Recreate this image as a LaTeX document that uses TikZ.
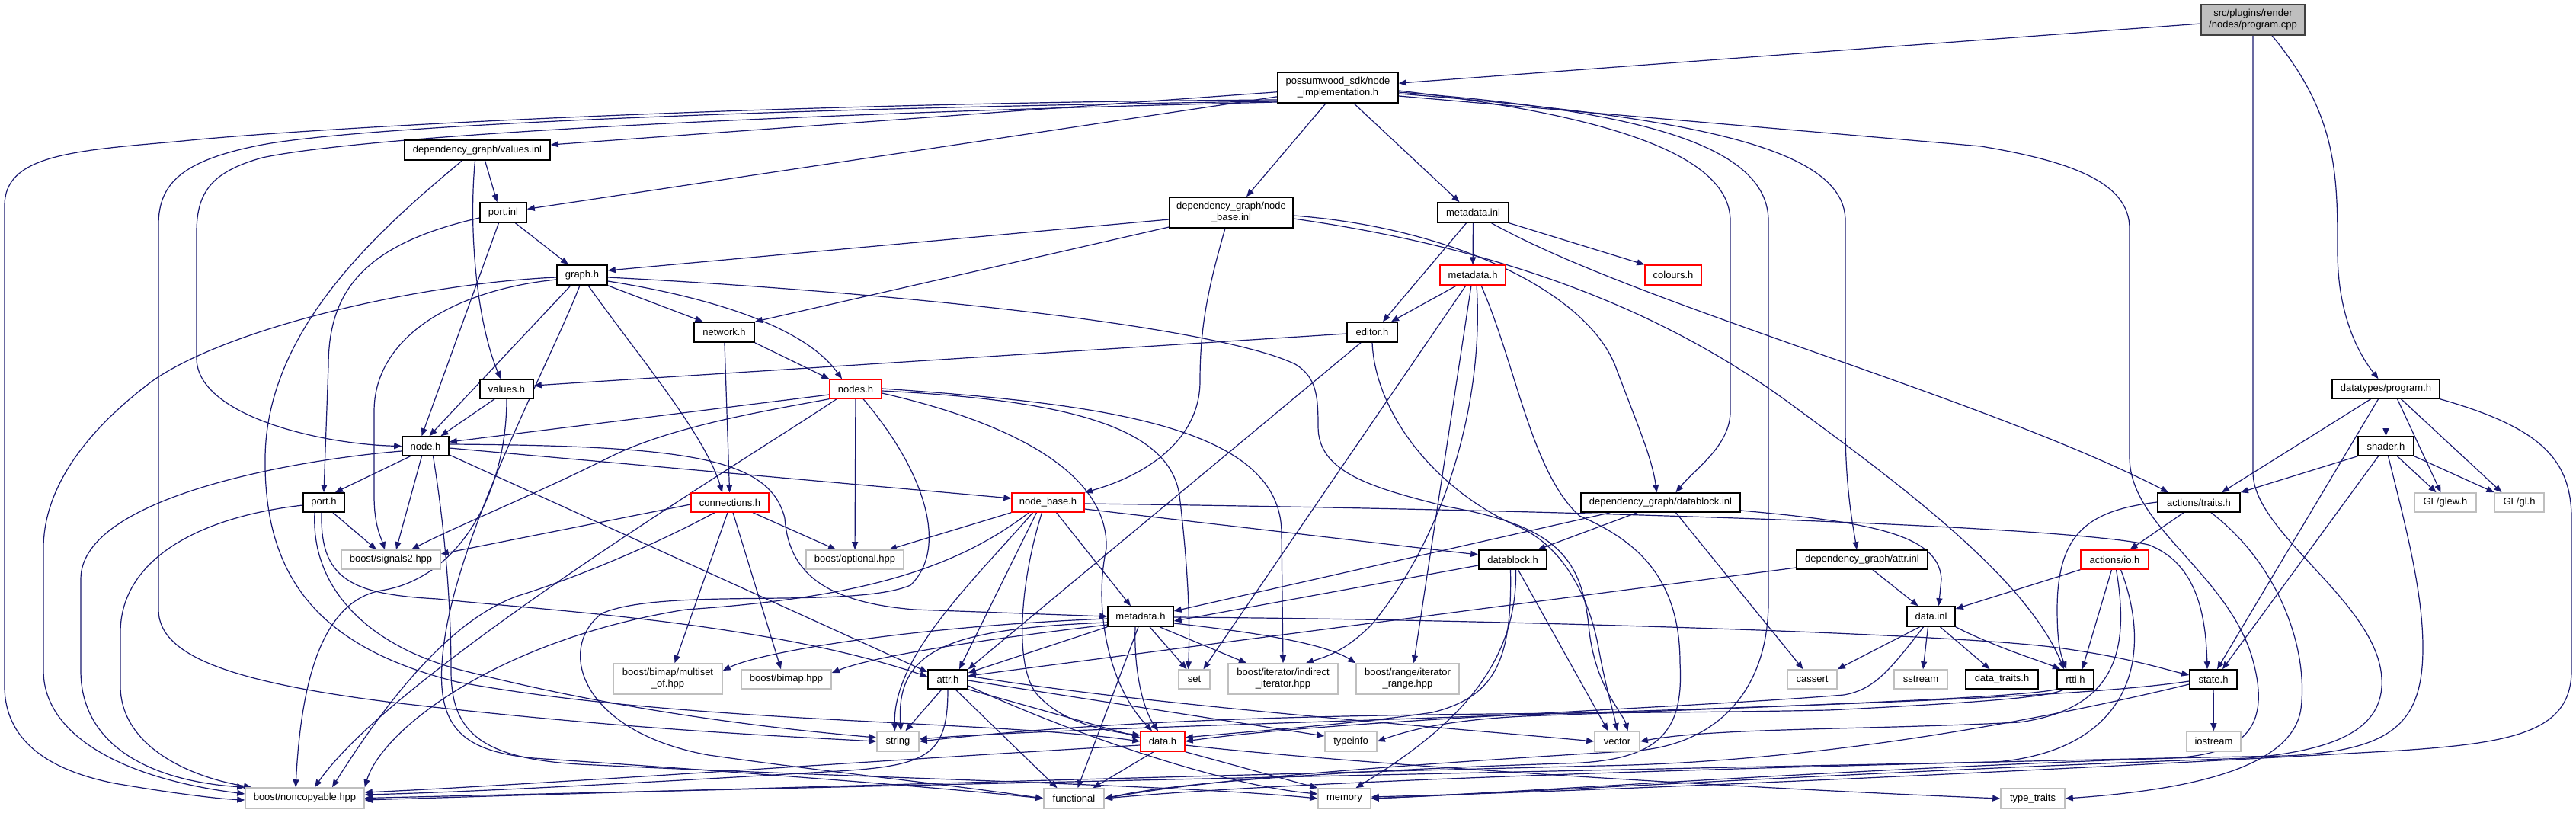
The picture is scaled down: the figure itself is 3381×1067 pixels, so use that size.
\documentclass[tikz,border=0pt]{standalone}
\usepackage{fontspec}
\setmainfont{Liberation Sans}
\usetikzlibrary{arrows.meta}
\definecolor{edgec}{HTML}{191970}
\definecolor{greyext}{HTML}{BFBFBF}
\definecolor{rootgrey}{HTML}{BFBFBF}
\definecolor{rootline}{HTML}{404040}
\newcommand\lblfont{\fontsize{13pt}{15pt}\selectfont}
\newcommand\mkbox[7]{\node[#1,minimum width={#4pt-#3pt},minimum height={#6pt-#5pt}] (#2) at ({(#3+#4)/2},{(#5+#6)/2}) {#7};}
\pgfdeclarelayer{bglayer}
\pgfdeclarelayer{edgelayer}
\pgfsetlayers{bglayer,edgelayer,main}
\tikzset{
 box/.style={draw=black,fill=white,line width=1.6pt,inner sep=0pt,font=\lblfont,align=center,text=black},
 redbox/.style={box,draw=red,line width=1.4pt},
 extbox/.style={box,draw=greyext,line width=1.6pt},
 rootbox/.style={box,fill=rootgrey,draw=rootline},
 dep/.style={draw=edgec,line width=1.2pt,-{Triangle[length=10pt,width=8pt]}},
}
\begin{document}
\begin{tikzpicture}[x=1pt,y=-1pt]
\useasboundingbox (0,0) rectangle (3381,1067);
\begin{pgfonlayer}{bglayer}
\fill[white] (0,0) rectangle (3381,1067);
\end{pgfonlayer}
% ---------------- nodes ----------------
\mkbox{rootbox}{PC}{2889}{3025}{6}{46}{src/plugins/render\\/nodes/program.cpp}
\mkbox{box}{NI}{1677}{1835}{95}{135}{possumwood\_sdk/node\\\_implementation.h}
\mkbox{box}{VI}{531}{722}{184}{210}{dependency\_graph/values.inl}
\mkbox{box}{PI}{630}{691}{266}{292}{port.inl}
\mkbox{box}{NBI}{1535}{1697}{259}{299}{dependency\_graph/node\\\_base.inl}
\mkbox{box}{MI}{1887}{1980}{266}{292}{metadata.inl}
\mkbox{box}{GR}{731}{797}{348}{374}{graph.h}
\mkbox{redbox}{MH1}{1890}{1976}{348}{374}{metadata.h}
\mkbox{redbox}{COL}{2159}{2233}{348}{374}{colours.h}
\mkbox{box}{NET}{911}{990}{423}{449}{network.h}
\mkbox{box}{ED}{1768}{1834}{423}{449}{editor.h}
\mkbox{box}{VH}{630}{700}{498}{523}{values.h}
\mkbox{redbox}{NS}{1089}{1157}{498}{523}{nodes.h}
\mkbox{box}{DP}{3061}{3202}{498}{523}{datatypes/program.h}
\mkbox{box}{NH}{528}{589}{573}{598}{node.h}
\mkbox{box}{SH}{3095}{3168}{573}{598}{shader.h}
\mkbox{box}{PH}{398}{452}{647}{672}{port.h}
\mkbox{redbox}{CON}{907}{1009}{647}{672}{connections.h}
\mkbox{redbox}{NB}{1328}{1423}{647}{672}{node\_base.h}
\mkbox{box}{DBI}{2075}{2284}{647}{672}{dependency\_graph/datablock.inl}
\mkbox{box}{AT}{2832}{2940}{647}{672}{actions/traits.h}
\mkbox{extbox}{GLEW}{3169}{3250}{647}{672}{GL/glew.h}
\mkbox{extbox}{GL}{3274}{3339}{647}{672}{GL/gl.h}
\mkbox{extbox}{SIG}{448}{578}{722}{747}{boost/signals2.hpp}
\mkbox{extbox}{OPT}{1058}{1186}{722}{747}{boost/optional.hpp}
\mkbox{box}{DB}{1941}{2030}{722}{747}{datablock.h}
\mkbox{box}{AI}{2358}{2530}{722}{747}{dependency\_graph/attr.inl}
\mkbox{redbox}{IO}{2731}{2820}{722}{747}{actions/io.h}
\mkbox{box}{MD}{1454}{1540}{796}{822}{metadata.h}
\mkbox{box}{DI}{2503}{2566}{796}{822}{data.inl}
\mkbox{extbox}{BMM}{805}{948}{871}{911}{boost/bimap/multiset\\\_of.hpp}
\mkbox{extbox}{BM}{973}{1091}{879}{904}{boost/bimap.hpp}
\mkbox{box}{AH}{1218}{1270}{879}{904}{attr.h}
\mkbox{extbox}{SET}{1547}{1588}{879}{904}{set}
\mkbox{extbox}{III}{1612}{1756}{871}{911}{boost/iterator/indirect\\\_iterator.hpp}
\mkbox{extbox}{RIR}{1780}{1915}{871}{911}{boost/range/iterator\\\_range.hpp}
\mkbox{extbox}{CA}{2346}{2411}{879}{904}{cassert}
\mkbox{extbox}{SS}{2486}{2556}{879}{904}{sstream}
\mkbox{box}{DT}{2580}{2675}{879}{904}{data\_traits.h}
\mkbox{box}{RT}{2700}{2748}{879}{904}{rtti.h}
\mkbox{box}{ST}{2874}{2936}{879}{904}{state.h}
\mkbox{extbox}{STR}{1151}{1206}{960}{986}{string}
\mkbox{redbox}{DH}{1497}{1555}{960}{986}{data.h}
\mkbox{extbox}{TI}{1739}{1807}{960}{986}{typeinfo}
\mkbox{extbox}{VEC}{2093}{2152}{960}{986}{vector}
\mkbox{extbox}{IOS}{2870}{2941}{960}{986}{iostream}
\mkbox{extbox}{NC}{322}{478}{1034}{1061}{boost/noncopyable.hpp}
\mkbox{extbox}{FN}{1370}{1449}{1035}{1061}{functional}
\mkbox{extbox}{MEM}{1730}{1799}{1035}{1061}{memory}
\mkbox{extbox}{TT}{2626}{2710}{1035}{1061}{type\_traits}
% ---------------- edges ----------------
\begin{pgfonlayer}{edgelayer}
% program.cpp
\draw[dep] (PC) -- (NI);
\draw[dep] ([xshift=25pt]PC.south) .. controls (3068,150) and (3068,230) .. (3068,330) .. controls (3068,420) and (3100,470) .. ([xshift=-10pt]DP.north);
\draw[dep] (PC.south) -- (2957,620) .. controls (2957,700) and (3120,790) .. (3126,890) .. controls (3130,960) and (3060,985) .. (2950,995) .. controls (2500,1010) and (2000,1040) .. (MEM.east);
% node_implementation.h
\draw[dep] (NI) -- (VI);
\draw[dep] (NI) -- (PI);
\draw[dep] (NI.west|-0,131) .. controls (1000,135) and (400,168) .. (230,186) .. controls (90,198) and (6,205) .. (6,270) -- (6,900) .. controls (6,970) and (60,1010) .. (150,1028) .. controls (220,1040) and (280,1048) .. (NC.west|-0,1050);
\draw[dep] (NI.west|-0,133) .. controls (1000,142) and (480,165) .. (344,190) .. controls (240,210) and (208,240) .. (208,295) -- (208,800) .. controls (208,860) and (300,895) .. (516,922) .. controls (800,955) and (1000,965) .. (STR.west);
\draw[dep] (NI.west|-0,134) .. controls (1000,150) and (480,178) .. (344,207) .. controls (280,225) and (258,250) .. (258,305) -- (258,470) .. controls (258,545) and (420,583) .. (NH.west);
\draw[dep] ([xshift=-16pt]NI.south) -- ([xshift=20pt]NBI.north);
\draw[dep] ([xshift=21pt]NI.south) -- ([xshift=-18pt]MI.north);
\draw[dep] (NI.east|-0,119) .. controls (2100,150) and (2271,200) .. (2271,290) -- (2271,540) .. controls (2271,585) and (2225,615) .. ([xshift=20pt]DBI.north);
\draw[dep] (NI.east|-0,121) .. controls (2150,145) and (2321,190) .. (2321,290) -- (2321,790) .. controls (2321,900) and (2260,975) .. (2150,985) .. controls (1900,1000) and (1600,1020) .. (FN.east);
\draw[dep] (NI.east|-0,123) .. controls (2250,155) and (2422,200) .. (2422,290) -- (2422,560) .. controls (2422,640) and (2432,690) .. ([xshift=-7pt]AI.north);
\draw[dep] (NI.east|-0,126) -- (2600,192) .. controls (2720,212) and (2795,240) .. (2795,300) -- (2795,600) .. controls (2795,690) and (2920,750) .. (2955,860) .. controls (2985,960) and (2940,990) .. (2850,995) .. controls (2400,1010) and (2000,1040) .. (MEM.east);
% values.inl
\draw[dep] ([xshift=10pt]VI.south) -- ([xshift=-8pt]PI.north);
\draw[dep] ([xshift=-3pt]VI.south) .. controls (615,300) and (625,420) .. ([xshift=-8pt]VH.north);
\draw[dep] ([xshift=-20pt]VI.south) .. controls (500,300) and (350,430) .. (348,600) .. controls (346,760) and (420,850) .. (600,895) .. controls (900,950) and (1300,945) .. (DH.west);
% port.inl
\draw[dep] (PI.west|-0,286) .. controls (480,320) and (431,380) .. (431,480) -- (PH.north);
\draw[dep] ([xshift=16pt]PI.south) -- ([xshift=-18pt]GR.north);
\draw[dep] ([xshift=-6pt]PI.south) -- ([xshift=-5pt]NH.north);
% graph.h
\draw[dep] ([xshift=-15pt]GR.south) -- ([xshift=5pt]NH.north);
\draw[dep] (GR.east|-0,369) .. controls (900,385) and (1050,420) .. ([xshift=-18pt]NS.north);
\draw[dep] (GR.south east) -- ([xshift=-28pt]NET.north);
\draw[dep] ([xshift=8pt]GR.south) .. controls (840,470) and (925,570) .. ([xshift=-10pt]CON.north);
\draw[dep] (GR.west|-0,367) .. controls (600,380) and (491,440) .. (491,540) -- (491,650) .. controls (491,690) and (500,705) .. ([xshift=-8pt]SIG.north);
\draw[dep] (GR.west|-0,364) .. controls (550,372) and (300,430) .. (200,500) .. controls (100,575) and (57,650) .. (57,720) -- (57,880) .. controls (57,960) and (150,1020) .. (NC.west|-0,1042);
\draw[dep] ([xshift=-3pt]GR.south) .. controls (720,480) and (600,700) .. (582,850) .. controls (570,950) and (600,985) .. (700,995) .. controls (1000,1015) and (1250,1035) .. (FN.west);
\draw[dep] (GR.east|-0,364) .. controls (1200,385) and (1600,430) .. (1700,478) .. controls (1728,495) and (1730,520) .. (1730,560) .. controls (1730,620) and (1800,640) .. (1900,665) .. controls (2040,690) and (2075,730) .. (2085,820) .. controls (2092,900) and (2130,935) .. ([xshift=14pt]VEC.north);
% node_base.inl
\draw[dep] (NBI.west|-0,288) -- (GR.east|-0,355);
\draw[dep] (NBI.west|-0,298) -- (NET.north east);
\draw[dep] ([xshift=-8pt]NBI.south) .. controls (1585,380) and (1575,430) .. (1575,500) .. controls (1575,580) and (1500,625) .. (NB.north east);
\draw[dep] (NBI.east|-0,283) .. controls (1900,298) and (2080,380) .. (2120,480) .. controls (2150,560) and (2168,600) .. ([xshift=-5pt]DBI.north);
\draw[dep] (NBI.east|-0,287) .. controls (2000,330) and (2200,420) .. (2350,530) .. controls (2500,640) and (2660,760) .. ([xshift=-15pt]RT.north);
% metadata.inl
\draw[dep] (MI) -- (MH1);
\draw[dep] ([xshift=-9pt]MI.south) -- ([xshift=14pt]ED.north);
\draw[dep] (MI.south east) -- (COL.north west);
\draw[dep] ([xshift=24pt]MI.south) .. controls (2150,400) and (2600,520) .. ([xshift=-40pt]AT.north);
% metadata.h (red)
\draw[dep] ([xshift=-21pt]MH1.south) -- ([xshift=25pt]ED.north);
\draw[dep] ([xshift=-9pt]MH1.south) -- ([xshift=12pt]SET.north);
\draw[dep] ([xshift=-2pt]MH1.south) -- ([xshift=8pt]RIR.north);
\draw[dep] ([xshift=5pt]MH1.south) .. controls (1948,520) and (1900,700) .. (1800,820) .. controls (1765,855) and (1740,862) .. ([xshift=30pt]III.north);
\draw[dep] ([xshift=11pt]MH1.south) .. controls (1990,480) and (2010,620) .. (2073,677) .. controls (2150,710) and (2205,760) .. (2205,870) .. controls (2210,960) and (2180,1000) .. (2050,1002) .. controls (1800,1010) and (1550,1025) .. (FN.east);
% editor.h
\draw[dep] (ED.west|-0,438) -- (VH.east|-0,506);
\draw[dep] ([xshift=-15pt]ED.south) -- (AH.north east);
\draw[dep] (ED.south) .. controls (1805,540) and (1880,640) .. (1990,690) .. controls (2050,715) and (2085,780) .. (2098,850) .. controls (2108,905) and (2118,935) .. (VEC.north);
% values.h
\draw[dep] ([xshift=-16pt]VH.south) -- ([xshift=20pt]NH.north);
\draw[dep] (VH.south) .. controls (665,650) and (600,760) .. (500,775) .. controls (420,790) and (395,900) .. ([xshift=-12pt]NC.north);
% network.h
\draw[dep] (NET) -- (CON);
\draw[dep] (NET.south east) -- (NS.north west);
% nodes.h
\draw[dep] (NS.west|-0,518) -- (NH.east|-0,580);
\draw[dep] (NS.south west) .. controls (1000,540) and (880,560) .. (800,600) .. controls (700,650) and (600,690) .. ([xshift=27pt]SIG.north);
\draw[dep] ([xshift=-25pt]NS.south) .. controls (1000,590) and (520,880) .. ([xshift=13pt]NC.north);
\draw[dep] (NS) -- (OPT);
\draw[dep] ([xshift=10pt]NS.south) .. controls (1215,620) and (1245,720) .. (1195,768) .. controls (1120,800) and (870,770) .. (790,805) .. controls (730,850) and (760,960) .. (930,991) .. controls (1100,1015) and (1250,1030) .. (FN.west);
\draw[dep] (NS.east|-0,516) .. controls (1350,560) and (1455,630) .. (1452,720) .. controls (1435,800) and (1455,900) .. ([xshift=-14pt]DH.north);
\draw[dep] (NS.east|-0,513) .. controls (1400,525) and (1535,560) .. (1548,650) .. controls (1560,750) and (1562,820) .. ([xshift=-8pt]SET.north);
\draw[dep] (NS.east|-0,510) .. controls (1450,530) and (1682,560) .. (1682,700) -- (III.north);
% node.h
\draw[dep] ([xshift=-20pt]NH.south) -- ([xshift=15pt]PH.north);
\draw[dep] ([xshift=-5pt]NH.south) -- ([xshift=7pt]SIG.north);
\draw[dep] (NH.west|-0,592) .. controls (400,602) and (106,650) .. (106,760) -- (106,880) .. controls (106,980) and (200,1025) .. (NC.north west);
\draw[dep] (NH.east|-0,588) -- (NB.west|-0,654);
\draw[dep] (NH.east|-0,597) -- (AH.west|-0,882);
\draw[dep] (NH.east|-0,583) .. controls (900,585) and (1010,600) .. (1030,680) .. controls (1035,750) and (1080,790) .. (1200,800) -- (MD.west);
\draw[dep] ([xshift=10pt]NH.south) .. controls (585,700) and (592,800) .. (592,880) .. controls (592,960) and (630,995) .. (760,1003) .. controls (1100,1020) and (1550,1030) .. (MEM.west);
% port.h
\draw[dep] ([xshift=12pt]PH.south) -- ([xshift=-19pt]SIG.north);
\draw[dep] (PH.west|-0,663) .. controls (250,680) and (158,740) .. (158,830) -- (158,900) .. controls (158,980) and (250,1020) .. ([xshift=-70pt]NC.north);
\draw[dep] ([xshift=-3pt]PH.south) .. controls (420,760) and (460,780) .. (574,786) .. controls (700,800) and (1000,815) .. (AH.west|-0,888);
\draw[dep] ([xshift=-12pt]PH.south) .. controls (408,770) and (480,845) .. (600,878) .. controls (800,930) and (1000,955) .. (STR.west|-0,968);
% connections.h
\draw[dep] (CON.west|-0,662) -- (SIG.east|-0,727);
\draw[dep] ([xshift=-20pt]CON.south) .. controls (850,720) and (750,760) .. (680,782) .. controls (600,810) and (520,900) .. ([xshift=36pt]NC.north);
\draw[dep] ([xshift=30pt]CON.south) -- ([xshift=-25pt]OPT.north);
\draw[dep] ([xshift=-3pt]CON.south) -- ([xshift=9pt]BMM.north);
\draw[dep] ([xshift=4pt]CON.south) -- ([xshift=-7pt]BM.north);
% node_base.h
\draw[dep] (NB.south west) -- ([xshift=45pt]OPT.north);
\draw[dep] ([xshift=11pt]NB.south) -- ([xshift=-13pt]MD.north);
\draw[dep] ([xshift=-15pt]NB.south) -- ([xshift=15pt]AH.north);
\draw[dep] ([xshift=-20pt]NB.south) .. controls (1280,760) and (1172,860) .. ([xshift=-4pt]STR.north);
\draw[dep] ([xshift=-8pt]NB.south) .. controls (1340,760) and (1330,870) .. (1360,910) .. controls (1390,945) and (1440,958) .. (DH.west|-0,965);
\draw[dep] (NB.east|-0,661) .. controls (2000,668) and (2700,688) .. (2820,715) .. controls (2880,738) and (2895,800) .. ([xshift=-8pt]ST.north);
\draw[dep] (NB.east|-0,668) -- (DB.west|-0,728);
\draw[dep] ([xshift=-25pt]NB.south) .. controls (1250,750) and (1120,785) .. (900,800) .. controls (650,840) and (500,960) .. (NC.north east);
% datablock.inl
\draw[dep] ([xshift=-31pt]DBI.south) -- ([xshift=33pt]DB.north);
\draw[dep] ([xshift=-66pt]DBI.south) -- (MD.east|-0,802);
\draw[dep] ([xshift=20pt]DBI.south) -- ([xshift=-12pt]CA.north);
\draw[dep] (DBI.east|-0,670) .. controls (2450,685) and (2545,700) .. (2548,760) -- ([xshift=10pt]DI.north);
% datablock.h
\draw[dep] (DB.west|-0,742) -- (MD.east|-0,815);
\draw[dep] ([xshift=7pt]DB.south) -- ([xshift=-12pt]VEC.north);
\draw[dep] ([xshift=-3pt]DB.south) .. controls (1985,870) and (1960,915) .. (1880,935) .. controls (1780,950) and (1640,960) .. (DH.east|-0,968);
\draw[dep] ([xshift=4pt]DB.south) .. controls (1992,880) and (1900,960) .. ([xshift=15pt]MEM.north);
% attr.inl
\draw[dep] (AI.west|-0,745) -- (AH.east|-0,887);
\draw[dep] ([xshift=14pt]AI.south) -- ([xshift=-17pt]DI.north);
% actions/io.h
\draw[dep] (IO.south west) -- (DI.east|-0,799);
\draw[dep] ([xshift=-4pt]IO.south) -- ([xshift=9pt]RT.north);
\draw[dep] ([xshift=2pt]IO.south) .. controls (2795,850) and (2780,930) .. (2650,948) .. controls (2450,958) and (2250,955) .. (VEC.east);
\draw[dep] ([xshift=8pt]IO.south) .. controls (2830,870) and (2790,985) .. (2620,1000) .. controls (2000,1012) and (1000,1035) .. (NC.east);
% actions/traits.h
\draw[dep] ([xshift=-20pt]AT.south) -- ([xshift=20pt]IO.north);
\draw[dep] (AT.west|-0,659) .. controls (2740,670) and (2700,700) .. (2700,800) .. controls (2700,850) and (2706,862) .. ([xshift=-12pt]RT.north);
\draw[dep] ([xshift=16pt]AT.south) .. controls (2990,740) and (3030,850) .. (3020,930) .. controls (3010,1000) and (2900,1035) .. (TT.east);
% metadata.h (black)
\draw[dep] (MD.south west) -- (AH.east|-0,883);
\draw[dep] ([xshift=12pt]MD.south) -- ([xshift=-10pt]SET.north);
\draw[dep] ([xshift=25pt]MD.south) -- ([xshift=-48pt]III.north);
\draw[dep] ([xshift=-7pt]MD.south) .. controls (1488,880) and (1500,930) .. ([xshift=-6pt]DH.north);
\draw[dep] ([xshift=-3pt]MD.south) -- ([xshift=5pt]FN.north);
\draw[dep] (MD.west|-0,817) .. controls (1250,825) and (1175,850) .. ([xshift=4pt]STR.north);
\draw[dep] (MD.west|-0,812) .. controls (1200,822) and (1000,855) .. (BMM.east|-0,880);
\draw[dep] (MD.west|-0,820) .. controls (1300,838) and (1150,860) .. (BM.east|-0,883);
\draw[dep] (MD.east|-0,818) .. controls (1650,830) and (1740,845) .. (RIR.north west);
\draw[dep] (MD.east|-0,810) .. controls (1900,812) and (2550,830) .. (2700,850) .. controls (2790,862) and (2840,878) .. (ST.west|-0,886);
% attr.h
\draw[dep] ([xshift=-8pt]AH.south) -- ([xshift=10pt]STR.north);
\draw[dep] (AH.south) .. controls (1244,990) and (1220,1005) .. (1100,1012) .. controls (800,1030) and (600,1040) .. (NC.east|-0,1043);
\draw[dep] ([xshift=10pt]AH.south) -- ([xshift=-22pt]FN.north);
\draw[dep] (AH.south east) -- (DH.west|-0,968);
\draw[dep] (AH.east|-0,900) .. controls (1400,960) and (1600,1030) .. (MEM.west|-0,1042);
\draw[dep] (AH.east|-0,893) -- (TI.west|-0,966);
\draw[dep] (AH.east|-0,887) .. controls (1500,925) and (1900,955) .. (VEC.west);
% data.h
\draw[dep] (DH.west|-0,978) .. controls (1200,995) and (700,1030) .. (NC.east|-0,1040);
\draw[dep] ([xshift=-12pt]DH.south) -- ([xshift=25pt]FN.north);
\draw[dep] (DH.south east) -- (MEM.north west);
\draw[dep] (DH.east|-0,978) .. controls (1800,1005) and (2300,1035) .. (TT.west);
% data.inl
\draw[dep] ([xshift=-15pt]DI.south) -- (CA.north east);
\draw[dep] ([xshift=-4pt]DI.south) -- ([xshift=3pt]SS.north);
\draw[dep] ([xshift=12pt]DI.south) -- ([xshift=-16pt]DT.north);
\draw[dep] (DI.south east) .. controls (2620,850) and (2680,868) .. ([xshift=-20pt]RT.north);
\draw[dep] ([xshift=-10pt]DI.south) .. controls (2480,880) and (2460,905) .. (2420,912) .. controls (2200,930) and (1750,945) .. (DH.east);
% rtti.h
\draw[dep] ([xshift=-15pt]RT.south) .. controls (2690,915) and (2600,922) .. (2400,932) .. controls (2000,940) and (1600,930) .. (STR.east);
\draw[dep] (RT.south west) .. controls (2650,915) and (2400,925) .. (2000,940) .. controls (1900,945) and (1850,958) .. (TI.east);
% state.h
\draw[dep] (ST) -- (IOS);
\draw[dep] (ST.west|-0,894) .. controls (2700,920) and (2200,930) .. (1800,945) .. controls (1500,955) and (1300,962) .. (STR.east|-0,970);
\draw[dep] (ST.west|-0,898) .. controls (2700,940) and (2400,1000) .. (2100,1005) .. controls (1500,1020) and (800,1040) .. (NC.east|-0,1050);
% datatypes/program.h
\draw[dep] ([xshift=-20pt]DP.south) -- ([xshift=30pt]AT.north);
\draw[dep] ([xshift=-10pt]DP.south) -- ([xshift=5pt]ST.north);
\draw[dep] (DP) -- (SH);
\draw[dep] ([xshift=15pt]DP.south) -- ([xshift=-6pt]GLEW.north);
\draw[dep] ([xshift=20pt]DP.south) -- ([xshift=-23pt]GL.north);
\draw[dep] (DP.south east) .. controls (3330,560) and (3375,600) .. (3375,680) -- (3375,880) .. controls (3375,960) and (3300,975) .. (3150,985) .. controls (2800,1005) and (2200,1035) .. (MEM.east|-0,1046);
% shader.h
\draw[dep] (SH.south west) -- (AT.north east);
\draw[dep] ([xshift=-10pt]SH.south) -- ([xshift=12pt]ST.north);
\draw[dep] ([xshift=15pt]SH.south) -- ([xshift=-12pt]GLEW.north);
\draw[dep] (SH.south east) -- ([xshift=-33pt]GL.north);
\draw[dep] ([xshift=3pt]SH.south) .. controls (3160,700) and (3180,780) .. (3180,850) .. controls (3180,950) and (3140,985) .. (3000,992) .. controls (2300,1005) and (1700,1025) .. (FN.east);
\end{pgfonlayer}
\end{tikzpicture}
\end{document}
